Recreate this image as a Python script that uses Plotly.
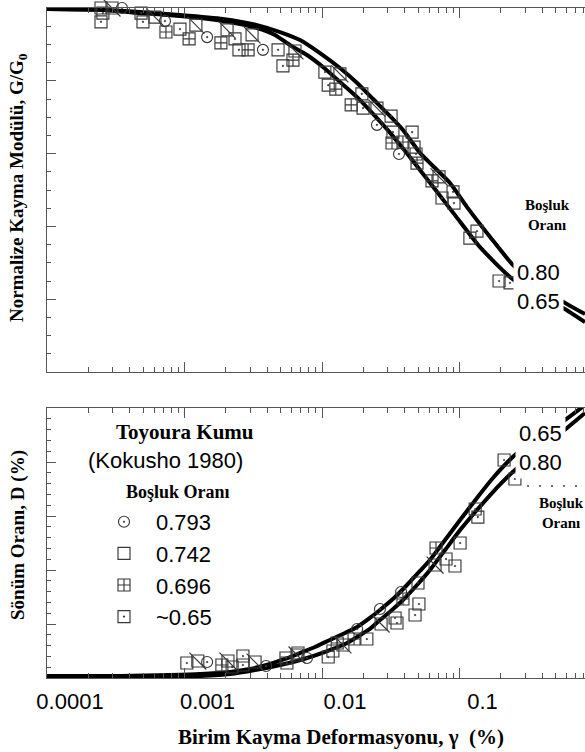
import plotly.graph_objects as go

# ---------------- data ----------------
# G/G0 panel: measured points (shear strain %, G/G0)
gG_circle = [3.51e-4, 7.21e-4, 1.46e-3, 3.72e-3, 2.51e-2, 3.63e-2]
G_circle = [1.00, 0.964, 0.920, 0.885, 0.679, 0.599]
gG_diag = [2.97e-4, 6.10e-4, 1.21e-3, 2.04e-3, 3.10e-3, 6.36e-3, 1.35e-2, 2.51e-2, 7.10e-2]
G_diag = [1.00, 0.975, 0.953, 0.940, 0.926, 0.882, 0.819, 0.725, 0.536]
gG_plus = [7.33e-4, 1.08e-3, 1.84e-3, 2.90e-3, 6.15e-3, 1.26e-2, 1.63e-2, 3.23e-2, 3.88e-2, 4.91e-2, 6.31e-2]
G_plus = [0.934, 0.915, 0.904, 0.885, 0.857, 0.777, 0.734, 0.629, 0.632, 0.574, 0.525]
gG_sq = [2.47e-4, 2.55e-4, 2.47e-4, 4.83e-4, 4.99e-4, 9.27e-4, 2.33e-3, 2.49e-3, 4.79e-3, 5.20e-3,
         1.05e-2, 1.11e-2, 1.95e-2, 1.99e-2, 3.18e-2, 3.28e-2, 4.52e-2, 4.67e-2, 4.83e-2, 8.97e-2,
         7.46e-2, 9.12e-2, 0.134, 0.119, 0.194, 0.233]
G_sq = [1.00, 0.986, 0.962, 0.986, 0.962, 0.942, 0.915, 0.885, 0.885, 0.841,
        0.824, 0.788, 0.764, 0.725, 0.703, 0.659, 0.659, 0.618, 0.599, 0.495,
        0.478, 0.464, 0.387, 0.368, 0.250, 0.245]

# G/G0 curves for void ratios 0.80 and 0.65
gam_G80 = [1e-4, 2.43e-4, 4.75e-4, 9.27e-4, 1.905e-3, 3.37e-3, 4.95e-3, 6.92e-3, 9.67e-3, 1.35e-2,
           1.80e-2, 2.35e-2, 3.13e-2, 3.88e-2, 5.16e-2, 6.41e-2, 8.53e-2, 0.1135, 0.167, 0.245,
           0.385, 0.585, 0.818]
G80 = [0.997, 0.995, 0.989, 0.981, 0.970, 0.953, 0.934, 0.912, 0.876, 0.835,
       0.794, 0.750, 0.703, 0.665, 0.602, 0.566, 0.519, 0.453, 0.371, 0.294,
       0.234, 0.190, 0.159]
gam_G65 = [1e-4, 2.43e-4, 4.75e-4, 9.27e-4, 1.905e-3, 3.37e-3, 4.55e-3, 5.85e-3, 7.78e-3, 1.016e-2,
           1.35e-2, 1.80e-2, 2.35e-2, 3.13e-2, 4.02e-2, 5.16e-2, 6.86e-2, 9.27e-2, 0.141, 0.233,
           0.354, 0.566, 0.818]
G65 = [0.997, 0.995, 0.986, 0.978, 0.964, 0.945, 0.926, 0.898, 0.871, 0.838,
       0.797, 0.755, 0.709, 0.657, 0.607, 0.555, 0.495, 0.431, 0.343, 0.261,
       0.212, 0.176, 0.137]

# Damping panel: measured points (shear strain %, D %)
gD_circle = [1.46e-3, 3.92e-3, 7.78e-3, 1.80e-2, 2.64e-2, 3.76e-2]
D_circle = [1.48, 1.11, 1.85, 4.54, 6.39, 7.96]
gD_diag = [1.25e-3, 2.07e-3, 3.26e-3, 6.58e-3, 1.42e-2, 2.69e-2, 6.64e-2]
D_diag = [1.57, 1.57, 1.48, 2.13, 3.06, 5.0, 10.46]
gD_plus = [1.87e-3, 1.29e-2, 1.71e-2, 3.88e-2, 6.75e-2]
D_plus = [1.2, 3.24, 3.61, 7.31, 12.04]
gD_sq = [1.04e-3, 2.22e-3, 2.66e-3, 2.66e-3, 5.56e-3, 5.47e-3, 6.69e-3, 1.11e-2, 1.20e-2, 2.12e-2,
         3.40e-2, 3.51e-2, 4.75e-2, 4.99e-2, 5.07e-2, 7.98e-2, 9.27e-2, 0.101, 0.130, 0.136, 0.211, 0.253]
D_sq = [1.39, 1.02, 2.04, 1.2, 1.39, 1.85, 2.31, 1.94, 2.5, 3.61,
        5.56, 5.09, 5.83, 8.80, 6.85, 11.02, 10.37, 12.5, 15.65, 14.9, 20.19, 18.43]

# Damping curves
gam_D65 = [1e-4, 3.40e-4, 7.85e-4, 1.30e-3, 2.14e-3, 2.99e-3, 4.19e-3, 5.38e-3, 6.92e-3, 8.89e-3,
           1.14e-2, 1.47e-2, 1.80e-2, 2.23e-2, 2.64e-2, 3.40e-2, 4.15e-2, 5.16e-2, 6.10e-2, 7.85e-2,
           0.101, 0.134, 0.175, 0.253, 0.385, 0.585, 0.818]
D65 = [0.19, 0.19, 0.28, 0.37, 0.56, 0.83, 1.30, 1.76, 2.31, 2.87,
       3.52, 4.17, 4.72, 5.56, 6.30, 7.50, 8.61, 9.91, 10.93, 12.78,
       14.63, 16.67, 18.52, 20.65, 22.41, 23.89, 25.28]
gam_D80 = [1e-4, 3.40e-4, 7.85e-4, 1.30e-3, 2.14e-3, 3.26e-3, 4.95e-3, 7.78e-3, 1.14e-2, 1.47e-2,
           1.80e-2, 2.23e-2, 2.64e-2, 3.23e-2, 3.88e-2, 4.91e-2, 6.10e-2, 7.85e-2, 0.101, 0.134,
           0.175, 0.253, 0.385, 0.605, 0.818]
D80 = [0.09, 0.09, 0.09, 0.19, 0.37, 0.74, 1.20, 1.85, 2.59, 3.15,
       3.80, 4.54, 5.37, 6.30, 7.22, 8.61, 10.0, 11.85, 13.70, 15.56,
       17.22, 19.26, 21.11, 23.15, 24.54]

legend_names = ["0.793", "0.742", "0.696", "~0.65"]
x_tickvals = [1e-4, 1e-3, 1e-2, 1e-1]
x_ticktext = ["0.0001", "0.001", "0.01", "0.1"]

# ---------------- styling ----------------
W, H = 585, 752
ML, MR, MT, MB = 47, 0, 8, 74
SERIF = "Liberation Serif, Times New Roman, serif"
SANS = "Liberation Sans, Arial, sans-serif"
MC = "#383838"
AX = "#555555"
MS = 12

fig = go.Figure()

def add_points(xs, ys, xa, ya, idx, show):
    name = legend_names[idx]
    common = dict(x=xs, y=ys, xaxis=xa, yaxis=ya, mode="markers", cliponaxis=False,
                  legendgroup=name, name=name, hoverinfo="skip")
    mline = dict(width=1.15, color=MC)
    if idx == 0:
        fig.add_trace(go.Scatter(**common, showlegend=show,
                                 marker=dict(symbol="circle-open-dot", size=MS - 1, color=MC, line=mline)))
    elif idx == 1:
        fig.add_trace(go.Scatter(**common, showlegend=show,
                                 marker=dict(symbol="square-open", size=MS, color=MC, line=mline)))
        fig.add_trace(go.Scatter(**common, showlegend=False,
                                 marker=dict(symbol="line-nw-open", size=MS * 1.414, color=MC, line=mline)))
    elif idx == 2:
        fig.add_trace(go.Scatter(**common, showlegend=show,
                                 marker=dict(symbol="square-cross-open", size=MS, color=MC, line=mline)))
    else:
        fig.add_trace(go.Scatter(**common, showlegend=show,
                                 marker=dict(symbol="square-open-dot", size=MS, color=MC, line=mline)))

# curves
for xs, ys, xa, ya in [(gam_G80, G80, "x", "y"), (gam_G65, G65, "x", "y"),
                       (gam_D65, D65, "x2", "y2"), (gam_D80, D80, "x2", "y2")]:
    fig.add_trace(go.Scatter(x=xs, y=ys, xaxis=xa, yaxis=ya, mode="lines",
                             line=dict(color="black", width=4, shape="spline", smoothing=0.6),
                             showlegend=False, hoverinfo="skip"))

# points top panel
add_points(gG_circle, G_circle, "x", "y", 0, False)
add_points(gG_diag, G_diag, "x", "y", 1, False)
add_points(gG_plus, G_plus, "x", "y", 2, False)
add_points(gG_sq, G_sq, "x", "y", 3, False)
# points bottom panel (carry the legend)
add_points(gD_circle, D_circle, "x2", "y2", 0, True)
add_points(gD_diag, D_diag, "x2", "y2", 1, True)
add_points(gD_plus, D_plus, "x2", "y2", 2, True)
add_points(gD_sq, D_sq, "x2", "y2", 3, True)

# geometry helpers (pixels -> paper)
PW = W - ML - MR
PH = H - MT - MB
def px(x):
    return (x - ML) / PW
def py(y):
    return (H - MB - y) / PH

minor_vals = [m * 10 ** e for e in range(-4, 0) for m in range(2, 10)]
xr = [-4.0, -4.0 + PW / 137.5]

xcommon = dict(type="log", range=xr, showline=True, linecolor=AX, linewidth=1, mirror="ticks",
               ticks="inside", ticklen=10, tickcolor=AX, tickwidth=1,
               tickmode="array", tickvals=x_tickvals, ticktext=x_ticktext,
               minor=dict(tickmode="array", tickvals=minor_vals, ticks="inside", ticklen=5,
                          tickcolor=AX, tickwidth=1, showgrid=False),
               showgrid=False, zeroline=False)

fig.update_layout(
    width=W, height=H,
    margin=dict(l=ML, r=MR, t=MT, b=MB),
    paper_bgcolor="white", plot_bgcolor="white",
    xaxis=dict(**xcommon, anchor="y", domain=[0, 1], showticklabels=False),
    xaxis2=dict(**xcommon, anchor="y2", domain=[0, 1], showticklabels=True,
                tickfont=dict(family=SANS, size=22, color="black"),
                ticklabelshift=23, ticklabelstandoff=4),
    yaxis=dict(domain=[py(372), 1], range=[0, 1], showline=True, linecolor=AX, linewidth=1,
               ticks="inside", ticklen=9, tickcolor=AX, dtick=0.2, tick0=0,
               minor=dict(dtick=0.05, ticks="inside", ticklen=4, tickcolor=AX, showgrid=False),
               showticklabels=False, showgrid=False, zeroline=False),
    yaxis2=dict(domain=[0, py(408)], range=[0, 25], showline=True, linecolor=AX, linewidth=1,
                ticks="inside", ticklen=9, tickcolor=AX, dtick=5, tick0=0,
                minor=dict(dtick=1, ticks="inside", ticklen=4, tickcolor=AX, showgrid=False),
                showticklabels=False, showgrid=False, zeroline=False),
    showlegend=True,
    legend=dict(x=px(92), y=py(501), xanchor="left", yanchor="top",
                bgcolor="rgba(0,0,0,0)", font=dict(family=SANS, size=22, color="black"),
                traceorder="grouped", tracegroupgap=0, itemwidth=54),
)

ann = []
def A(text, x, y, font, **kw):
    d = dict(text=text, x=px(x), y=py(y), xref="paper", yref="paper", showarrow=False, font=font)
    d.update(kw)
    ann.append(d)

A("0.80<br>0.65", 513, 287.5, dict(family=SANS, size=22, color="black"),
  xanchor="left", yanchor="middle", align="left", bgcolor="white", borderpad=3)
A("0.65<br>0.80", 515, 447.5, dict(family=SANS, size=22, color="black"),
  xanchor="left", yanchor="middle", align="left", bgcolor="white", borderpad=3)
A("<b>Boşluk<br>Oranı</b>", 547, 215, dict(family=SERIF, size=15, color="black"),
  xanchor="center", yanchor="middle", align="center")
A("<b>Boşluk<br>Oranı</b>", 561, 512.5, dict(family=SERIF, size=15, color="black"),
  xanchor="center", yanchor="middle", align="center")
A("<b>Toyoura Kumu</b>", 185, 432, dict(family=SERIF, size=21, color="black"),
  xanchor="center", yanchor="middle")
A("(Kokusho 1980)", 165, 460, dict(family=SANS, size=22, color="black"),
  xanchor="center", yanchor="middle")
A("<b>Boşluk Oranı</b>", 178, 492, dict(family=SERIF, size=18, color="black"),
  xanchor="center", yanchor="middle")
A("<b>Normalize Kayma Modülü, G/G<sub>0</sub></b>", 18, 188, dict(family=SERIF, size=19, color="black"),
  xanchor="center", yanchor="middle", textangle=-90)
A("<b>Sönüm Oranı, D (%)</b>", 18, 535, dict(family=SERIF, size=19, color="black"),
  xanchor="center", yanchor="middle", textangle=-90)
A("<b>Birim Kayma Deformasyonu, γ  (%)</b>", 341, 737, dict(family=SERIF, size=21, color="black"),
  xanchor="center", yanchor="middle")
fig.update_layout(annotations=ann)

fig.add_shape(type="line", xref="paper", yref="paper", x0=px(527), x1=px(585), y0=py(486), y1=py(486),
              line=dict(color="#444444", width=1.5, dash="2px,10px"))

fig.write_html("out.html", config={"displayModeBar": False},
               post_script="document.body.style.margin='0px';document.body.style.overflow='hidden';")
